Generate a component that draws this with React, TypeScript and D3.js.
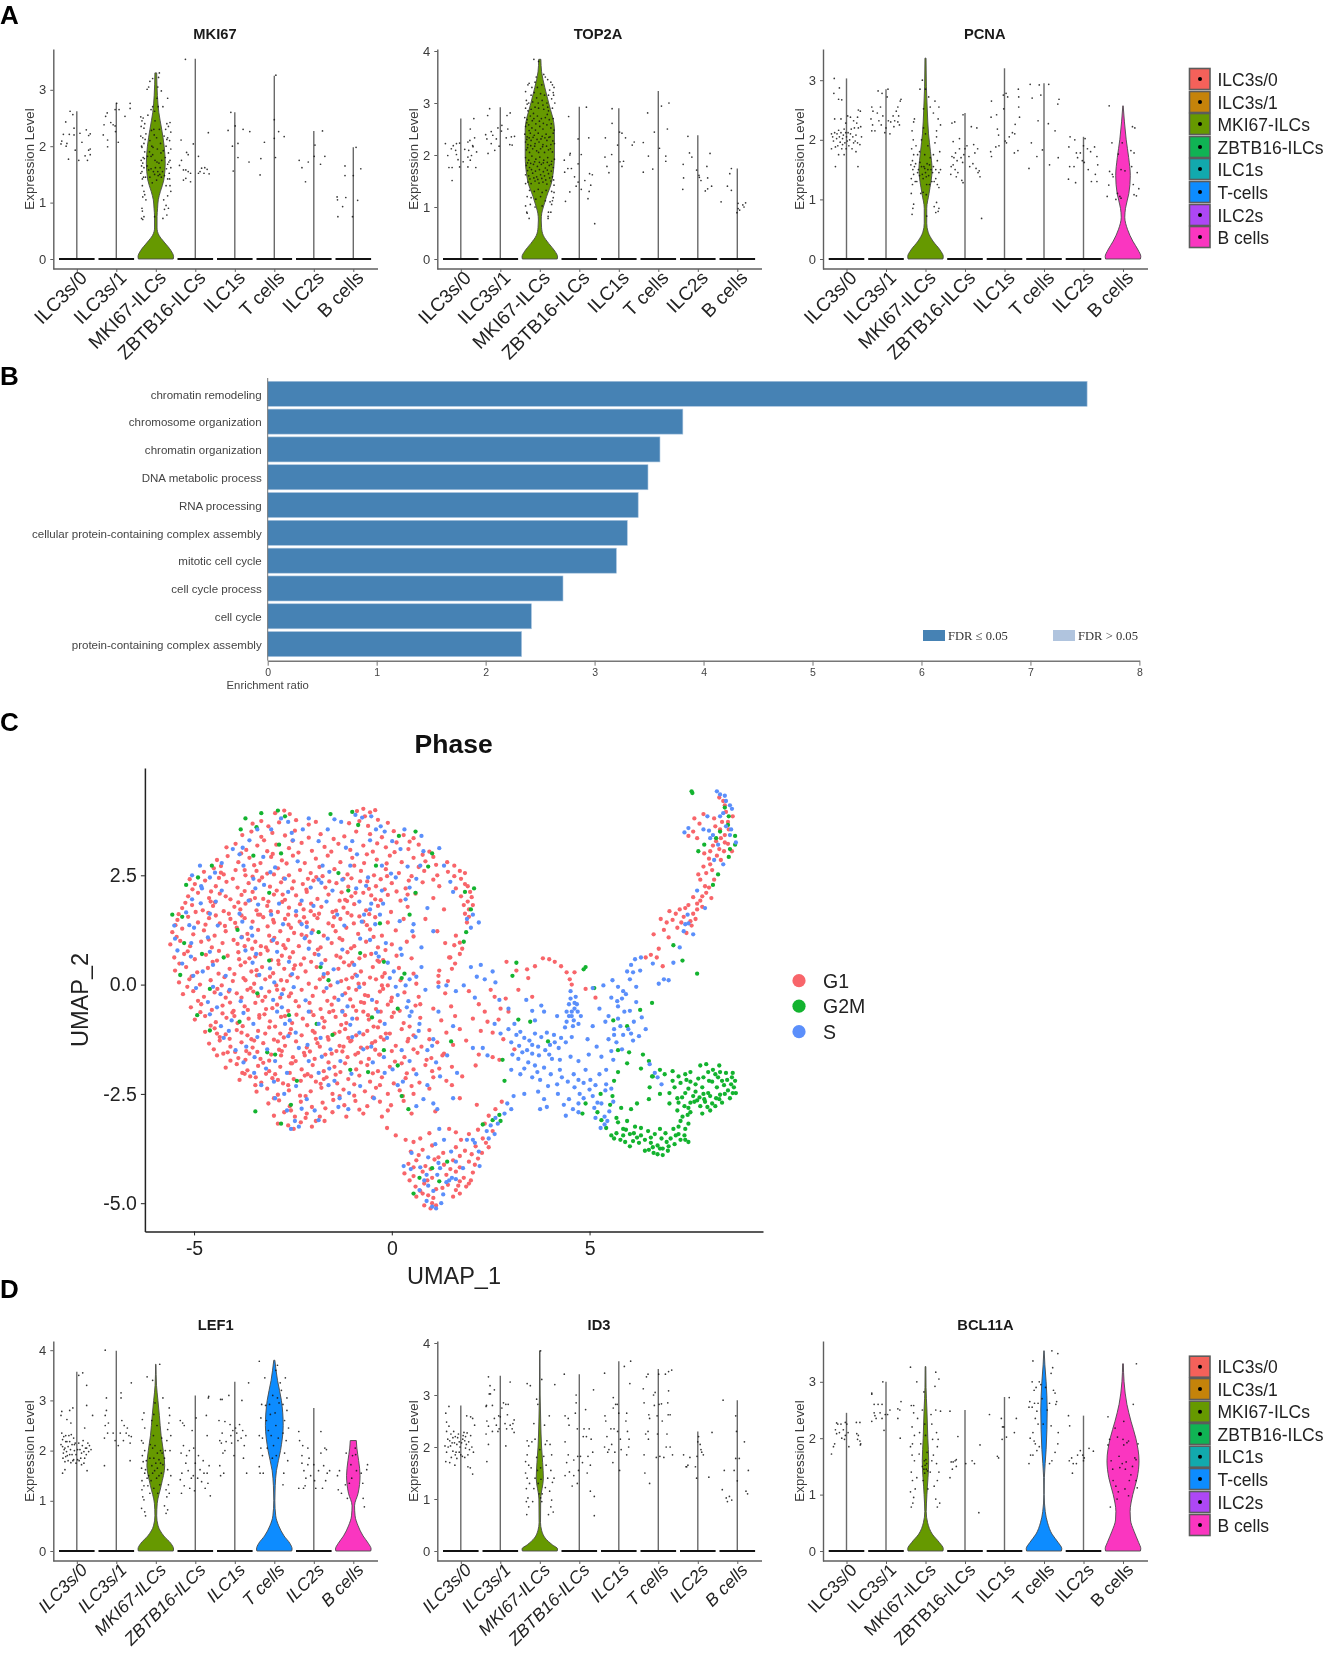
import { useEffect, useRef } from 'react'
import * as d3 from 'd3'

const clusters = ['ILC3s/0', 'ILC3s/1', 'MKI67-ILCs', 'ZBTB16-ILCs', 'ILC1s', 'T cells', 'ILC2s', 'B cells']
const legendLabels = ['ILC3s/0', 'ILC3s/1', 'MKI67-ILCs', 'ZBTB16-ILCs', 'ILC1s', 'T-cells', 'ILC2s', 'B cells']
const clusterColors = ['#f4615a', '#c5830a', '#669900', '#10b354', '#12a9ad', '#0d8cff', '#ad47f5', '#fa36c0']

// tallest value of each cluster, per gene
const mki67Max = [2.62, 2.77, 3.3, 3.55, 2.6, 3.25, 2.27, 1.98]
const top2aMax = [2.7, 2.92, 3.84, 2.93, 2.9, 3.23, 2.38, 1.74]
const pcnaMax = [3.03, 2.85, 3.37, 2.45, 3.2, 2.95, 2.05, 2.57]
const lef1Max = [3.57, 3.99, 3.72, 3.1, 3.37, 3.8, 2.85, 2.2]
const id3Max = [2.8, 3.37, 3.85, 3.4, 3.65, 3.5, 2.3, 2.9]
const bcl11aMax = [2.45, 3.0, 3.27, 2.5, 2.73, 3.55, 2.4, 3.32]

// violin outlines: value, relative half width
type Profile = [number, number][]
const mki67Green: Profile = [[0, .98], [.04, 1], [.15, .85], [.3, .47], [.42, .18], [.55, .07], [.75, .07], [.9, .1], [1.05, .14], [1.2, .26], [1.4, .45], [1.7, .53], [2, .47], [2.3, .33], [2.6, .17], [2.9, .09], [3.3, .05]]
const top2aGreen: Profile = [[0, .98], [.04, 1], [.15, .85], [.3, .5], [.45, .2], [.6, .1], [.75, .08], [.88, .11], [1, .2], [1.2, .38], [1.5, .68], [2, .82], [2.5, .82], [3, .5], [3.3, .28], [3.6, .1], [3.84, .06]]
const pcnaGreen: Profile = [[0, .98], [.04, 1], [.15, .82], [.3, .42], [.45, .15], [.6, .07], [.85, .07], [1.1, .2], [1.5, .37], [1.8, .28], [2.1, .17], [2.5, .1], [2.9, .05], [3.37, .03]]
const pcnaB: Profile = [[0, .98], [.04, 1], [.15, .85], [.3, .55], [.5, .25], [.7, .1], [.85, .14], [1.1, .33], [1.4, .41], [1.7, .32], [2, .18], [2.3, .08], [2.57, .01]]
const lef1Green: Profile = [[0, .98], [.04, 1], [.15, .85], [.3, .45], [.5, .13], [.7, .05], [.95, .08], [1.3, .3], [1.7, .5], [2, .42], [2.3, .3], [2.7, .2], [3, .12], [3.3, .04], [3.72, .01]]
const lef1T: Profile = [[0, .98], [.04, 1], [.15, .88], [.3, .55], [.5, .25], [.7, .08], [1, .03], [1.3, .05], [1.6, .12], [2, .35], [2.5, .5], [3, .4], [3.4, .18], [3.8, .03]]
const lef1B: Profile = [[0, .98], [.04, 1], [.15, .85], [.3, .55], [.5, .27], [.7, .1], [.9, .07], [1.15, .27], [1.5, .38], [1.8, .3], [2.05, .2], [2.2, .17]]
const id3Green: Profile = [[0, .98], [.04, 1], [.12, .7], [.25, .3], [.4, .1], [.55, .04], [1, .05], [1.4, .2], [1.7, .16], [2, .1], [2.5, .05], [3, .02], [3.85, .01]]
const bcl11aGreen: Profile = [[0, .98], [.04, 1], [.15, .78], [.3, .38], [.5, .12], [.7, .04], [1, .08], [1.6, .18], [2, .13], [2.5, .08], [2.9, .03], [3.27, .02]]
const bcl11aT: Profile = [[0, .98], [.04, 1], [.15, .8], [.3, .45], [.5, .2], [.7, .07], [1, .01], [1.3, .02], [1.8, .12], [2.5, .18], [3, .12], [3.3, .05], [3.55, .01]]
const bcl11aB: Profile = [[0, .98], [.04, 1], [.15, .88], [.35, .62], [.55, .42], [.7, .4], [1, .55], [1.3, .8], [1.6, .9], [2, .72], [2.3, .45], [2.6, .22], [3, .06], [3.32, .02]]

// jittered cells: offset in hundredths of a category step, then expression
const mki67Cells = [
  '-17,2.62 -10,2.56 -28,2.43 -34,2.21 -19,2.21 -7,2.32 -7,2.2 8,2.23 24,2.29 34,2.22 30,2.19 13,2.07 -38,2.09 -40,2.04 -25,2.05 -27,2 -21,1.77 -4,1.93 5,1.75 30,1.93 34,1.95 21,1.83 27,1.75 34,1.85',
  '-23,2.59 -27,2.53 -31,2.38 -14,2.42 -8,2.38 -3,2.36 -2,2.26 -33,2.2 -22,2.11 -22,1.99 5,2.07 35,2.76 35,2.67 22,2.53 7,2.65 -3,2.65 1,2.76',
  '-36,.72 -33,.7 -34,.85 -35,.9 -30,.75 -33,1.1 -28,1.14 -30,1.2 -34,1.3 -31,1.45 -35,1.55 -36,1.65 -33,1.7 -30,1.62 -37,1.75 -32,1.8 -28,1.9 -36,2 -30,2.05 -33,2.15 -37,2.35 -30,2.32 -35,2.45 -32,2.5 -38,2.52 -25,2.22 -28,2.4 -20,2.55 -15,3.15 -18,3.05 -22,3.01 -12,2.65 -8,2.7 -5,2.3 -15,2.1 -10,2 -4,2.2 -16,1.9 -8,1.85 -2,1.75 -12,1.6 -6,1.55 -15,1.45 -9,1.35 -3,1.5 5,1.55 2,1.4 10,1.5 14,1.45 8,1.7 15,1.75 4,1.95 12,2.05 2,2.15 9,2.3 -2,2.45 6,2.7 5,3.05 9,3.3 7,3.22 14,2.98 -8,3.2 3,2.85 18,2.7 30,2.85 28,2.4 36,2.42 32,2.35 25,2.3 38,2.25 30,2.15 35,2.1 26,2 38,1.95 32,1.88 24,1.8 36,1.75 30,1.68 38,1.62 27,1.6 34,1.52 22,1.48 30,1.42 36,1.3 26,1.3 38,1.2 30,1.12 20,1.05 26,.95 32,.9 22,.88 28,.78 18,.72 -3,.75 -25,1.05 -22,1.65 -26,1.45 -38,1.52 -34,1.42 -29,1.78 -35,1.98 -27,2.12 -38,2.18 -21,1.82 -18,1.58 -12,1.82 -7,1.98 -1,1.62 3,1.72 6,1.48 11,1.62 17,1.55 13,1.88 19,1.92 -11,2.28 -3,2.62 28,2.12 33,1.72 21,2.18 35,1.42',
  '-25,3.54 -36,2.11 33,2.24 -5,2.04 -22,1.89 -18,1.85 -35,1.75 -40,1.66 -30,1.58 -24,1.58 8,1.82 -18,1.55 -12,1.52 -30,1.4 -24,1.43 -12,1.37 8,1.52 12,1.55 16,1.61 24,1.62 30,1.59 35,1.51 22,1.52',
  '-10,2.6 -17,2.28 1,2.36 21,2.3 38,2.26 8,2.05 -6,2 8,1.8 36,1.72 -4,1.56',
  '0,2.47 -25,2.07 11,2.26 25,2.17 0,2.14 -34,1.78 3,1.8 -36,1.49 4,3.26',
  '22,2.27 3,2.02 -37,1.75 -14,1.72 -30,1.62 1,1.82 28,1.82 17,1.68 -21,1.37',
  '7,1.98 -21,1.65 -21,1.48 19,1.6 0,1.48 -41,1.1 -40,1.05 -19,1.09 11,1.04 -27,.93 -39,.75 -2,.75',
]

const top2aCells = [
  '-39,2.22 -19,2.18 -11,2.22 -3,2.23 -24,2.12 -13,2.09 -33,1.99 -11,2.01 -7,1.91 -30,1.76 -22,1.76 -22,1.51 -3,1.77 6,1.87 10,2.11 18,2.25 24,2.5 33,2.7 23,2.28 35,2.33 30,2.18 20,2.09 40,2.06 27,1.99 18,1.96 24,1.9 18,1.77 38,1.76 31,2.16',
  '-27,2.89 -32,2.76 25,2.81 17,2.76 -37,2.39 -23,2.45 -19,2.38 -34,2.31 -10,2.31 -23,2.22 -31,2.03 -14,2.09 -3,2.17 4,2.57 3,2.46 19,2.5 28,2.35 36,2.36 15,2.33 24,2.2 30,2.19 -6,2.52',
  '-15,3.84 -3,3.8 10,3.55 14,3.5 20,3.45 -27,3.38 -30,3.35 -12,3.4 -6,3.3 5,3.35 28,3.4 32,3.35 36,3.3 -36,3.22 -22,3.15 -14,3.2 2,3.18 12,3.15 25,3.25 34,3.2 -34,3.05 -28,3 -18,3.02 -8,3.1 6,3.05 18,3 30,3.08 38,3 -36,2.9 -30,2.85 -22,2.88 -12,2.92 -3,2.9 10,2.88 22,2.85 32,2.9 -38,2.72 -32,2.68 -24,2.75 -15,2.7 -6,2.75 4,2.7 14,2.72 24,2.68 34,2.7 -36,2.55 -28,2.58 -20,2.52 -10,2.6 0,2.55 8,2.5 18,2.58 28,2.52 36,2.48 -38,2.4 -32,2.35 -24,2.42 -14,2.38 -4,2.42 6,2.36 16,2.4 26,2.35 34,2.42 -36,2.25 -30,2.2 -22,2.28 -12,2.22 -2,2.25 8,2.2 18,2.28 28,2.2 37,2.22 -34,2.1 -26,2.05 -18,2.12 -8,2.08 2,2.12 12,2.05 22,2.1 32,2.06 -36,1.95 -28,1.9 -20,1.98 -10,1.92 0,1.96 10,1.9 20,1.95 30,1.88 37,1.92 -34,1.8 -26,1.76 -16,1.82 -6,1.78 4,1.82 14,1.75 24,1.8 34,1.76 -36,1.62 -28,1.6 -18,1.65 -8,1.58 2,1.62 12,1.6 22,1.64 32,1.58 -30,1.48 -22,1.45 -12,1.5 -2,1.46 8,1.48 18,1.44 28,1.5 36,1.42 -36,1.45 -26,1.32 -14,1.3 -4,1.34 6,1.28 16,1.32 30,1.3 36,1.28 -32,1.2 -22,1.18 -10,1.15 2,1.2 14,1.12 26,1.1 34,1.18 -36,1.02 -24,1.05 -12,1 6,1.02 32,1.12 30,1.05 -33,.9 -32,.88 -27,.78 22,.9 28,.9 21,.82 21,.78 -33,2.62 -27,2.47 -19,2.66 -11,2.48 -1,2.65 9,2.61 19,2.78 29,2.6 -33,2.3 -27,2.33 -17,2.34 -7,2.3 3,2.31 13,2.33 23,2.34 33,2.27 -31,2.14 -23,2.18 -13,2.17 -3,2.05 7,2.16 17,2.17 27,2.12 -31,1.85 -23,1.84 -13,1.87 -1,1.86 9,1.85 19,1.86 29,1.82 -31,1.7 -21,1.72 -11,1.69 -1,1.72 9,1.68 19,1.71 29,1.69 -25,1.54 -15,1.56 -5,1.53 5,1.55 15,1.52 25,1.56 35,1.52 -32,2.98 -16,2.8 -4,3 8,2.96 20,2.92 35,3.15 -20,3.3 -9,3.5 22,3.15',
  '-27,2.74 18,2.92 24,2.33 -3,2.31 -38,1.9 -24,2 -23,2.03 5,2.01 -29,1.74 -20,1.74 -37,1.67 -3,1.83 -12,1.58 -3,1.48 -8,1.4 5,1.34 14,1.51 26,1.64 33,1.62 29,1.42 25,1.3 22,1.16 -24,1.29 -35,1.11 39,.68',
  '-17,2.89 -17,2.61 -34,2.33 -35,1.96 -18,2.01 -30,1.78 -25,1.66 -3,2.19 2,2.44 8,2.42 17,2.33 34,2.19 39,2.25 3,1.87 12,1.88 8,1.78',
  '-27,2.81 8,2.94 27,3 -10,2.44 23,2.5 -38,2.24 3,2.13 -25,1.98 19,1.98 19,1.88 -14,1.73 -38,1.67',
  '-25,2.36 -21,2.04 -15,1.96 31,2.03 -37,1.82 23,1.78 -3,1.71 3,1.61 4,1.57 8,1.51 -36,1.56 25,1.56 -38,1.34 35,1.4 25,1.35 19,1.31',
  '-15,1.74 -19,1.64 -25,1.4 -15,1.32 -41,1.1 2,1.07 -1,.89 6,.94 17,1 14,1.04 21,1.08 2,.97',
]

const pcnaCells = [
  '-31,3.03 -18,2.87 -32,2.78 -20,2.68 -12,2.67 -30,2.35 -14,2.35 3,2.4 10,2.38 30,2.5 35,2.48 28,2.38 -38,2.1 -35,2.05 -33,1.98 -38,1.85 -28,1.88 -22,1.9 -25,2.02 -18,2.05 -14,2.12 -10,2.02 -6,2.18 -4,1.95 -12,1.85 -6,1.75 -20,1.75 -28,1.55 0,2.05 4,2.12 8,2 12,2.18 16,2.05 20,2.2 6,1.9 14,1.85 22,1.98 28,1.95 34,1.92 38,2.05 30,2.2 26,2.28 36,2.22 24,1.8 29,1.55 18,2.32 -2,2.28 -30,2.12 -24,2.1 -16,1.96 -8,2.08 -2,2.12 2,1.98 10,2.1 18,1.95 24,2.08 -20,2.16 -10,1.92 -1,1.85',
  '-36,2.55 -33,2.48 -20,2.82 -10,2.78 5,2.85 3,2.72 30,2.55 38,2.68 36,2.65 -38,2.35 -34,2.25 -28,2.15 -36,2.15 -22,2.45 -18,2.32 -12,2.25 -8,2.4 -3,2.12 0,2.2 6,2.32 10,2.1 12,2.3 18,2.4 22,2.32 26,2.48 30,2.3 32,2.4 34,2.25 20,2.22 -14,2.55',
  '-34,.75 -32,.85 -30,.92 -36,1.1 -33,1.25 -36,1.35 -30,1.42 -37,1.58 -33,1.65 -30,1.75 -35,1.85 -31,2 -34,2.15 -30,2.3 -28,2.35 -8,3 -5,2.52 -14,2.85 0,2.85 8,2.72 12,2.55 20,2.45 24,2.65 34,2.55 -22,1.3 -18,1.5 -25,1.6 -20,1.75 -24,1.9 -15,1.4 -10,1.55 -15,1.8 -10,2 -5,2.2 -4,1.55 -2,1.75 -6,1.35 0,1.45 4,1.6 3,1.25 6,1.9 0,2.1 8,1.4 10,1.25 12,1.7 14,1.5 18,1.45 20,1.75 22,1.3 24,1.95 28,2.05 26,1.5 30,1.65 34,1.45 30,1.25 36,1.8 38,1.5 34,1.2 38,2.25 22,.88 28,.95 26,.78 32,.8 34,.85 3,.72 28,2.15 32,2.35 -28,1.55 -26,1.3 -32,1.5 -20,1.45 -14,1.62 -8,1.42 -2,1.52 2,1.38 6,1.5 10,1.58 16,1.3 20,1.55 26,1.35 -12,1.1 -6,1.12 2,1.08',
  '-33,2.28 -26,2.3 -5,2.42 -14,2.02 -30,1.97 -14,1.85 -33,1.72 -28,1.7 -24,1.78 -20,1.65 -30,1.58 -35,1.55 -25,1.5 -18,1.45 -36,1.42 -22,1.38 -8,1.32 -5,1.28 -3,1.75 0,1.85 -6,1.62 5,1.9 16,2.22 30,2.2 32,1.85 25,1.78 12,1.55 20,1.6 28,1.52 33,1.45 38,1.38 36,1.48 -10,1.7 10,1.72 22,1.92 42,.68',
  '-33,2.65 -34,2.38 -20,2.42 -35,1.8 -33,1.72 -22,1.88 -18,2.18 -15,2.08 -14,1.9 4,2.78 -3,2.75 8,2.72 -2,2.52 2,1.98 5,1.95 12,2.05 20,2.12 26,2.1 35,2.85 36,2.72 36,2.55 38,2.38 27,2.26 34,1.82 25,1.78',
  '-35,2.93 -12,2.92 -8,2.75 12,2.93 -30,2.7 -15,2.32 -4,1.83 -32,1.95 -18,1.72 -38,1.52 11,2.27 28,2.15 35,2.6 38,2.68 14,1.58 36,1.7',
  '-34,2.05 -22,2 -37,1.88 -35,1.55 -38,1.34 -18,1.78 -15,1.7 -20,1.28 -8,1.78 -3,1.65 0,1.9 2,1.62 4,2.02 10,1.85 18,1.8 28,1.88 34,1.72 36,1.58 12,1.5 -24,1.55 20,1.3 30,1.42 34,1.3',
  '-35,2.57 -28,1.95 -34,1.47 -27,1.42 -25,1.38 -36,1.24 -40,1.05 -12,1.76 -2,1.95 -5,1.5 5,1.48 -14,1.1 -8,1.05 -18,1 -5,1.02 24,2.22 30,2.2 20,1.82 28,1.78 22,1.55 36,1.45 26,1.25 40,1.18 34,1.06 28,1.08',
]

const lef1Cells = [
  '-38,2.35 -36,2.22 -40,2.12 -33,2.28 -28,2.3 -25,2.18 -20,2.3 -14,2.32 -8,2.25 -4,2.15 -30,2.05 -26,1.98 -22,2.08 -16,2.02 -12,1.92 -6,2 -35,1.85 -30,1.78 -22,1.8 -15,1.76 -8,1.82 -2,1.75 -36,1.55 -30,1.62 -25,2.62 -38,2.78 -18,2.8 -40,2.7 -10,2.85 5,2.15 8,2.02 12,1.95 16,2.2 20,1.85 25,2.05 28,2.15 32,2.1 36,2.02 22,2.05 18,1.75 12,1.72 2,1.82 26,1.6 20,2.45 40,2.7 25,2.9 5,3.5 15,3.55 25,3.3 -15,2.55 -36,2.08 -32,2.02 -34,1.95 -28,1.88 -24,1.9 -18,1.92 -12,2.12 -6,2.12 -2,1.92 2,2.02 6,1.8 10,1.85 14,2.1 18,1.98 24,1.92 30,1.98 -28,2.18 -18,2.18 -10,1.8',
  '-25,3.05 -25,2.8 -28,2.7 -20,2.55 -22,2.35 -30,2.25 -30,1.7 -8,2.35 -3,2.2 5,2.1 12,3.15 12,3.05 14,2.6 20,2.5 25,2.35 32,2.3 38,2.28 18,2.2 35,2.15 28,2.45 10,2.35 -28,2.5 38,3.35 -28,4 35,1.8',
  '-22,3.47 10,3.72 -8,3.4 -30,2.75 -34,2.62 -28,2.45 -36,2.2 -32,2.15 -28,2 -34,1.9 -32,1.78 -36,1.65 -28,1.55 -35,1.4 -30,1.3 -35,1.22 -33,1.08 -30,1.02 -36,.85 -28,.78 -26,.7 -15,1.15 -20,1.3 -18,1.5 -10,1.7 -15,1.85 -8,2.05 -14,2.12 -6,2.3 -10,2.6 -5,2.72 -2,2.95 3,2.5 -2,2.1 4,1.95 -3,1.6 2,1.45 -5,1.25 5,1.15 10,1.32 14,1.55 18,1.72 12,2 15,2.25 22,1.85 24,2 28,2.2 33,2.55 34,2.85 35,2.7 30,2.42 38,2.3 36,2 30,1.62 38,1.5 32,1.32 26,1.22 34,1.15 28,1.08 22,.9 30,.82 26,.75 18,3.05 -24,1.8 -26,1.62 -22,1.45 -12,1.4 -8,1.55 -5,1.85 0,1.75 4,1.65 8,1.5 8,1.82 12,1.75 16,1.95',
  '-38,2.6 -32,2.55 -28,2.5 -30,2.1 -36,1.95 -34,1.55 -38,1.42 -28,1.3 -35,1.15 -22,1.9 -24,1.75 -15,2 -18,1.6 -10,1.45 -14,1.25 -4,2.05 0,1.75 -5,1.5 -2,1.2 -8,2.4 2,2.65 8,1.9 6,1.45 12,1.62 16,1.38 20,1.8 22,1.55 25,1.25 30,1.55 35,1.7 32,1.35 38,1.1 30,2.3 28,2.7 34,3.08 33,3.05',
  '-40,2.6 -36,3.02 -32,3.02 -25,2.58 -32,2.35 -22,2.18 -38,2.2 -34,2.15 -25,2 -30,1.95 -36,1.5 -28,1.55 -38,1.7 -15,3.1 -12,2.52 -10,2.3 -8,2.15 -5,2.4 -2,1.9 2,2.45 5,2.35 8,2.2 12,2.52 16,2.25 20,2.4 28,2.3 35,3.35 24,2.1 30,1.55 22,1.85 18,3',
  '-38,3.78 -24,3.45 -22,2.9 -32,2.92 -34,2.65 -38,2.3 -30,2.25 -34,2.05 -30,1.9 -38,1.68 -28,1.55 -36,1.55 -20,2.6 -15,2.4 -12,2.92 -18,2.05 -10,2.72 -4,3.1 2,2.75 8,3.05 -8,2.3 -2,2.1 4,2.5 10,2.25 -5,1.85 5,1.9 15,3.35 18,3.2 22,2.92 28,3.45 22,2.35 26,2.6 32,2.8 36,2.45 30,2.2 26,1.95 34,1.8 24,1.55 22,1.32 32,3.05 4,3.6 8,3.7 12,2.95',
  '-38,2.38 -36,2.2 -28,2.1 -30,1.9 -25,1.6 -30,1.75 -15,2.05 -12,1.85 -20,1.45 -22,1.3 -38,1.25 -26,1.25 -15,1.72 0,1.72 2,1.4 5,1.25 18,2.38 28,2.05 18,1.95 32,2.02 25,1.7 34,1.55 30,1.4 -8,1.5 12,1.6 40,1.6 22,1.25',
  '-40,1.5 -38,1.22 -35,1.6 -30,1.15 -18,1.95 -10,1.35 -6,1.72 -4,1.45 -2,1.9 5,2.05 6,1.92 8,1.6 20,1.55 24,1.35 28,.88 34,1.62 36,1.72 25,1.05 -20,1.32 -15,1.05',
]

const id3Cells = [
  '-38,2.65 -30,2.78 -36,2.48 -30,2.4 -36,2.3 -33,2.15 -40,2.02 -36,1.9 -28,2.12 -25,2.25 -22,2.08 -18,2.3 -14,2.2 -10,2.05 -6,2.25 -24,1.8 -20,1.92 -14,1.85 -10,1.78 -4,1.9 -4,2.1 -38,1.72 -28,1.7 -15,1.65 0,1.85 5,2.15 8,2.28 12,2.2 16,2.27 20,2.1 12,1.98 18,1.85 4,1.82 10,1.8 22,1.95 25,2.22 30,2.55 35,2.42 25,2.58 28,2 32,1.9 18,1.62 30,1.48 24,1.6 15,2.6 -32,2 -26,2.02 -20,2.18 -16,2.08 -12,1.9 -8,2.18 -2,2 2,2.08 6,2.22 10,2.12 14,2.05',
  '-35,2.8 -36,2.78 -30,3.35 -26,3.18 -28,3.02 -25,3.02 -20,2.8 -15,3.1 -34,2.5 -30,2.4 -36,2.25 -30,2.05 -34,1.72 -20,2.3 -15,2.55 -10,2.42 -6,2.3 -4,2.6 0,2.58 -3,2.35 4,2.75 8,2.85 14,2.82 20,2.82 25,3.25 18,2.62 12,2.45 16,2.35 25,2.42 32,2.45 35,2.52 30,2.35 14,2.02 35,2.28',
  '-32,3.22 -24,3.18 -8,2.92 -5,2.82 -32,2.12 -36,1.72 -32,1.85 -28,1.65 -36,1.5 -32,1.4 -26,1.3 -34,1.2 -30,1.02 -34,.95 -28,.85 -33,.7 -28,2.02 -22,1.6 -20,2.1 -15,2.45 -12,2.15 -12,1.4 -15,1.2 -18,.95 -8,1.8 -6,1.55 -4,1.3 -2,1.1 0,1.95 2,1.6 3,1.38 6,1.1 2,1.02 5,.95 12,2.42 14,2.05 10,1.82 16,1.65 20,1.4 14,1.22 18,2.12 24,2.6 26,2.05 30,1.85 28,1.55 32,1.32 25,1.15 30,.98 22,.7 28,.85 34,.75 36,1.4 38,3.2 2,3.85 5,3.3',
  '-38,3.4 -36,2.6 -28,2.55 -26,2.42 -8,3 -8,2.85 -10,2.65 -36,2.1 -32,1.7 -28,1.85 -25,1.52 -36,1.45 -14,1.75 -14,1.45 -18,1.25 -5,2.35 -4,1.82 -2,1.55 -5,1.3 3,1.82 8,1.7 10,2.2 12,2.35 16,2.72 18,2.2 22,1.82 20,1.5 28,1.65 25,2.35 30,2.15 34,1.9 28,1.15 38,1.05 36,3.1 38,.68',
  '-36,3.42 -35,2.6 -33,2.5 -30,2.2 -36,2.0 -28,1.9 -25,1.95 -20,2.35 -14,2.95 -14,2.75 -12,2.35 -18,2.05 -10,1.9 -15,1.7 -8,2.82 -4,2.82 -3,2.3 0,2.65 4,2.15 6,1.95 2,1.55 14,3.55 30,3.65 28,3.22 20,2.65 18,2.5 22,2.3 26,2.15 25,2 20,1.85',
  '-38,3.12 -30,3.35 -26,3.4 -36,2.85 -26,2.3 -24,2.62 -22,2.55 -32,2.25 -36,1.85 -34,1.5 -22,1.3 -25,2.15 -12,3 -8,3.05 -10,2.8 -3,2.6 -2,2.25 1,3.4 2,2.82 8,2.83 10,2.5 -5,1.8 4,1.82 18,3.4 22,2.25 26,3.45 24,2.85 26,3.08 25,2.62 30,2.62 34,3.48 30,2 20,2 36,1.85 14,1.8',
  '-36,1.85 -25,1.65 -28,1.62 -20,1.8 -6,1.62 -3,1.4 -2,1.82 0,2.1 2,2.2 6,2.05 8,1.95 10,1.9 14,1.85 36,2.28 28,1.42 -30,1.62',
  '-36,2.9 -4,2.6 -2,2.3 18,2.1 28,1.55 -33,1.55 -38,1.18 -28,1.02 -25,.95 -20,1.05 -14,.98 -8,1.55 -4,1.78 0,1.35 5,1.78 22,1.15 26,1.1',
]

const bcl11aCells = [
  '-38,1.72 -33,1.85 -30,1.9 -28,2.15 -25,2.08 -22,2.25 -18,2.1 -14,2.25 -12,2 -8,2.15 -5,1.98 -3,2.05 1,2.25 4,2.1 6,1.85 -3,2.28 25,2.28 26,2.08 30,2.05 28,1.98 34,2.28 34,1.95 35,1.88 -25,2.27 36,1.9',
  '-36,2.8 -30,2.6 -36,2.3 -30,2.45 -25,2.35 -15,2.45 -10,2.6 -8,3 -10,2.35 -5,2.14 -2,2.42 4,2.42 10,2.5 30,2.52 30,2.35 38,2.65 36,2 35,2.5 -28,2.4 -20,2.6 -36,2.78',
  '-38,3.26 -22,3 -30,2.45 -36,2.58 -30,2.58 -34,2.2 -33,1.9 -28,2.05 -38,1.85 -34,1.7 -28,1.6 -36,1.4 -33,1.25 -38,1.05 -32,.85 -36,.78 -26,1.1 -30,.95 -22,1.3 -20,2.35 -15,2.1 -12,1.9 -16,1.72 -8,2.5 -4,2.82 -8,1.5 -6,1.25 -3,1.6 0,2.05 -2,2.25 2,1.45 4,1.75 6,1.1 14,2.42 16,2.25 18,1.98 20,1.7 12,1.4 16,1.6 22,1.15 24,2.92 26,2.5 28,2.1 30,1.85 28,1.55 34,1.4 30,1.25 26,.92 30,.78 36,.85 26,3.17 38,2.48 34,3.05 32,1.98 -1,1.52 -4,1.45 1,1.62 3,1.55 -2,1.38 5,1.42',
  '-38,2.48 -35,1.58 -32,1.45 -30,1.58 -38,1.3 -25,1.6 -22,1.62 -22,1.5 -18,2.03 2,1.55 18,1.6 24,1.55 38,1.88 35,.68',
  '-38,2.42 -15,1.65 -18,1.68 -5,2.2 -6,1.98 -2,2.2 5,2.02 12,2.72 25,2.1 30,2.35 -8,2.35',
  '-36,2.65 -38,2.55 -35,2 -38,1.55 -34,1.7 -28,3.37 -30,3 -30,2.55 -25,2.85 -24,2.62 -22,2.35 -28,2.1 -25,1.95 -22,1.9 -18,1.78 -28,1.7 -20,2.9 -18,2.48 -15,2.62 -15,2.25 -12,1.85 -12,3 -8,2.95 -5,2.7 -2,2.25 4,2.9 8,2.5 14,2.62 18,2.22 20,3.55 35,3.5 22,3.25 18,3.15 24,2.85 28,2.8 32,2.65 30,2.6 36,2.1 35,1.9 28,1.75 20,1.6 14,1.55',
  '-38,2.4 -35,2.22 -30,1.65 -36,1.6 -26,1.55 -28,1.38 -15,1.7 -8,1.78 -2,1.7 0,1.6 2,1.65 14,1.82 25,1.77 -18,1.55',
  '-38,2.38 -34,1.98 -38,1.88 -32,.78 -30,1.6 -26,1.45 -20,2.18 -14,2.02 -25,1.25 -18,1.15 -12,1.05 -15,.92 -10,1.68 -8,1.48 -2,1.55 2,2.3 5,1.1 0,1.98 2,1.88 6,1.45 8,1.58 10,1.92 14,.98 16,1.25 20,1.35 24,1.5 26,2.6 30,1.65 33,1.25 33,1.62 36,1.12 38,1.9 14,1.95 34,3.32',
]

// enrichment bars
const terms = ['chromatin remodeling', 'chromosome organization', 'chromatin organization', 'DNA metabolic process', 'RNA processing', 'cellular protein-containing complex assembly', 'mitotic cell cycle', 'cell cycle process', 'cell cycle', 'protein-containing complex assembly']
const enrichment = [7.52, 3.81, 3.6, 3.49, 3.4, 3.3, 3.2, 2.71, 2.42, 2.33]
const enrichTicks = [0, 1, 2, 3, 4, 5, 6, 7, 8]

// UMAP cells, x,y
const phaseLabels = ['G1', 'G2M', 'S']
const phaseColors = ['#f8656a', '#13b32f', '#5b8ffb']
const umapTicksX = [-5, 0, 5]
const umapTicksY = [2.5, 0, -2.5, -5]

const g1Cells = `-2.95,3.92 -2.72,3.98 -2.58,3.9 -0.88,3.97 -0.72,4.02 -0.55,3.94 -0.42,3.99 -0.68,3.85 -3.52,3.68 -3.3,3.74 -3.12,3.62 -2.85,3.71 -2.42,3.76 -2.1,3.66 -1.92,3.72 -1.08,3.69 -0.82,3.74 -0.6,3.63 -0.35,3.77 -0.1,3.7 -3.78,3.42 -3.55,3.5 -3.3,3.38 -3.02,3.47 -2.7,3.41 -2.45,3.52 -2.1,3.36 -1.8,3.44 -1.2,3.39 -0.9,3.5 -0.55,3.44 -0.25,3.37 0.05,3.51 0.3,3.42 0.55,3.35 -4.18,3.14 -3.95,3.22 -3.68,3.08 -3.4,3.18 -3.15,3.05 -2.92,3.2 -2.6,3.12 -2.28,3.24 -2.02,3.06 -1.7,3.15 -1.35,3.22 -1.05,3.08 -0.72,3.18 -0.48,3.04 -0.15,3.14 0.12,3.25 0.42,3.1 0.68,3.2 0.95,3.04
-4.42,2.85 -4.15,2.94 -3.88,2.8 -3.6,2.9 -3.32,2.78 -3.05,2.92 -2.78,2.84 -2.5,2.95 -2.2,2.78 -1.92,2.88 -1.62,2.95 -1.3,2.8 -1,2.9 -0.7,2.78 -0.38,2.86 -0.05,2.95 0.25,2.8 0.55,2.9 0.85,2.82 1.12,2.74 1.05,2.92 -4.75,2.58 -4.5,2.66 -4.25,2.52 -3.95,2.62 -3.7,2.5 -3.42,2.6 -3.15,2.54 -2.88,2.66 -2.6,2.5 -2.32,2.62 -2.05,2.55 -1.75,2.48 -1.45,2.64 -1.12,2.52 -0.78,2.6 -0.45,2.5 -0.15,2.64 0.18,2.55 0.5,2.48 0.82,2.6 1.15,2.5 1.42,2.58 1.75,2.42 1.85,2.55 -4.98,2.3 -4.72,2.38 -4.45,2.25 -4.18,2.35 -3.9,2.22 -3.62,2.32 -3.35,2.38 -3.08,2.24 -2.8,2.34 -2.52,2.2 -2.25,2.3 -1.98,2.38 -1.68,2.22 -1.4,2.32 -1.1,2.24 -0.8,2.36 -0.4,2.25 0,2.32 0.35,2.2 0.78,2.34 1.2,2.25 1.62,2.2 1.85,2.3 1.98,2.12 -5.15,2.02 -4.9,2.1 -4.62,1.98 -4.35,2.08 -4.08,1.95 -3.8,2.05 -3.52,2.12 -3.25,1.96 -2.98,2.06 -2.7,1.94 -2.42,2.04 -2.15,2.12 -1.88,1.96 -1.6,2.06 -1.32,1.92 -1.02,2.02 -0.72,2.1 -0.42,1.95 -0.1,2.05 0.22,1.92 0.6,2.08 1.05,1.98 1.75,2.02 2.02,2 1.82,1.82 1.92,1.9
-5.3,1.75 -5.05,1.82 -4.78,1.7 -4.52,1.8 -4.25,1.68 -3.98,1.78 -3.7,1.85 -3.42,1.7 -3.15,1.8 -2.88,1.66 -2.6,1.76 -2.32,1.84 -2.05,1.68 -1.78,1.78 -1.5,1.66 -1.22,1.76 -0.95,1.84 -0.65,1.7 -0.35,1.8 -0.02,1.66 0.4,1.78 1.32,1.72 1.85,1.62 1.95,1.72 -5.42,1.48 -5.15,1.55 -4.9,1.42 -4.62,1.52 -4.35,1.4 -4.08,1.5 -3.8,1.58 -3.52,1.44 -3.25,1.54 -2.98,1.42 -2.7,1.5 -2.42,1.58 -2.15,1.42 -1.88,1.52 -1.6,1.4 -1.3,1.5 -1.02,1.58 -0.72,1.44 -0.42,1.54 -0.1,1.42 0.3,1.5 0.85,1.5 1.9,1.42 -5.55,1.2 -5.3,1.28 -5.02,1.15 -4.75,1.24 -4.48,1.12 -4.2,1.22 -3.92,1.3 -3.65,1.16 -3.38,1.25 -3.1,1.12 -2.82,1.22 -2.55,1.3 -2.28,1.14 -2,1.24 -1.72,1.12 -1.42,1.22 -1.15,1.3 -0.85,1.16 -0.55,1.26 -0.25,1.12 0.1,1.24 0.55,1.1 1.15,1.22 -5.6,.92 -5.35,1 -5.1,.88 -4.82,.98 -4.55,.85 -4.28,.95 -4,1.02 -3.72,.88 -3.45,.98 -3.18,.85 -2.9,.95 -2.62,1.02 -2.35,.88 -2.08,.98 -1.8,.85 -1.52,.95 -1.25,1.02 -0.95,.88 -0.65,.98 -0.35,.85 0,.92 0.38,.98 1.35,.95 1.58,.9 1.72,.96
-5.5,.62 -5.25,.7 -4.98,.58 -4.7,.68 -4.42,.55 -4.15,.66 -3.88,.74 -3.6,.6 -3.32,.7 -3.05,.56 -2.78,.66 -2.5,.74 -2.22,.6 -1.95,.7 -1.68,.56 -1.4,.66 -1.12,.74 -0.82,.6 -0.52,.7 -0.22,.56 0.12,.66 0.5,.6 1.48,.62 1.6,.48 1.72,.7 -5.48,.32 -5.2,.4 -4.92,.28 -4.65,.38 -4.38,.25 -4.1,.36 -3.82,.44 -3.55,.3 -3.28,.4 -3,.26 -2.72,.36 -2.45,.44 -2.18,.3 -1.9,.4 -1.62,.26 -1.35,.36 -1.08,.44 -0.78,.3 -0.48,.4 -0.18,.26 0.18,.38 0.55,.25 1.2,.32 1.52,.36 -5.38,.05 -5.12,.12 -4.85,0 -4.58,.1 -4.3,-.02 -4.02,.08 -3.75,.15 -3.48,.02 -3.2,.12 -2.92,-.02 -2.65,.08 -2.38,.16 -2.1,.02 -1.82,.12 -1.55,-.02 -1.28,.08 -1,.16 -0.7,.02 -0.4,.12 -0.1,-.02 0.22,.1 0.62,.02 1.18,.05 1.42,.08 -5.28,-.22 -5.02,-.15 -4.75,-.28 -4.48,-.18 -4.2,-.3 -3.92,-.2 -3.65,-.12 -3.38,-.26 -3.1,-.16 -2.82,-.3 -2.55,-.2 -2.28,-.12 -2,-.26 -1.72,-.16 -1.45,-.3 -1.18,-.2 -0.9,-.12 -0.6,-.26 -0.3,-.16 0,-.3 0.32,-.18 0.68,-.28 1.35,-.2 1.95,-.15 2.5,-.12 2.6,-.28
-5.08,-.52 -4.82,-.45 -4.55,-.58 -4.28,-.48 -4,-.6 -3.72,-.5 -3.45,-.42 -3.18,-.56 -2.9,-.46 -2.62,-.6 -2.35,-.5 -2.08,-.42 -1.8,-.56 -1.52,-.46 -1.25,-.6 -0.98,-.5 -0.7,-.42 -0.4,-.56 -0.1,-.46 0.2,-.6 0.6,-.48 1.05,-.55 1.5,-.5 2.2,-.45 2.35,-.62 2.75,-.55 -4.98,-.8 -4.72,-.72 -4.45,-.86 -4.18,-.76 -3.9,-.88 -3.62,-.78 -3.35,-.7 -3.08,-.84 -2.8,-.74 -2.52,-.88 -2.25,-.78 -1.98,-.7 -1.7,-.84 -1.42,-.74 -1.15,-.88 -0.88,-.78 -0.6,-.7 -0.3,-.84 0,-.74 0.3,-.88 0.72,-.76 1.25,-.82 1.6,-.72 2.05,-.78 2.7,-.8 -4.72,-1.08 -4.48,-1 -4.2,-1.14 -3.92,-1.04 -3.65,-1.16 -3.38,-1.06 -3.1,-.98 -2.82,-1.12 -2.55,-1.02 -2.28,-1.16 -2,-1.06 -1.72,-.98 -1.45,-1.12 -1.18,-1.02 -0.9,-1.16 -0.62,-1.06 -0.35,-.98 -0.05,-1.12 0.25,-1.02 0.55,-1.16 0.95,-1.04 1.38,-1.1 1.72,-1.02 2.25,-1.06 2.55,-1.1
-4.62,-1.35 -4.35,-1.28 -4.08,-1.42 -3.8,-1.32 -3.52,-1.44 -3.25,-1.34 -2.98,-1.26 -2.7,-1.4 -2.42,-1.3 -2.15,-1.44 -1.88,-1.34 -1.6,-1.26 -1.32,-1.4 -1.05,-1.3 -0.78,-1.44 -0.5,-1.34 -0.2,-1.26 0.1,-1.4 0.4,-1.3 0.75,-1.42 1.15,-1.32 1.55,-1.38 1.88,-1.28 -4.42,-1.62 -4.15,-1.55 -3.88,-1.68 -3.6,-1.58 -3.32,-1.7 -3.05,-1.6 -2.78,-1.52 -2.5,-1.66 -2.22,-1.56 -1.95,-1.7 -1.68,-1.6 -1.4,-1.52 -1.12,-1.66 -0.85,-1.56 -0.58,-1.7 -0.3,-1.6 0,-1.52 0.32,-1.66 0.65,-1.56 1,-1.68 1.32,-1.58 2.2,-1.6 2.55,-1.66 -4.2,-1.9 -3.92,-1.82 -3.65,-1.96 -3.38,-1.86 -3.1,-1.98 -2.82,-1.88 -2.55,-1.8 -2.28,-1.94 -2,-1.84 -1.72,-1.98 -1.45,-1.88 -1.18,-1.8 -0.9,-1.94 -0.62,-1.84 -0.35,-1.98 -0.05,-1.88 0.25,-1.8 0.55,-1.94 0.85,-1.84 1.2,-1.92 1.52,-1.88 2.12,-1.85 -3.85,-2.18 -3.58,-2.1 -3.3,-2.24 -3.02,-2.14 -2.75,-2.26 -2.48,-2.16 -2.2,-2.08 -1.92,-2.22 -1.65,-2.12 -1.38,-2.26 -1.1,-2.16 -0.82,-2.08 -0.55,-2.22 -0.25,-2.12 0.05,-2.26 0.35,-2.14 0.7,-2.24 1.05,-2.12 1.38,-2.2 1.78,-2.1
-3.42,-2.45 -3.15,-2.38 -2.88,-2.52 -2.6,-2.42 -2.32,-2.54 -2.05,-2.44 -1.78,-2.36 -1.5,-2.5 -1.22,-2.4 -0.95,-2.54 -0.68,-2.44 -0.4,-2.36 -0.1,-2.5 0.2,-2.42 0.55,-2.5 0.95,-2.38 -3.12,-2.72 -2.85,-2.65 -2.58,-2.78 -2.3,-2.68 -2.02,-2.8 -1.75,-2.7 -1.48,-2.64 -1.2,-2.76 -0.92,-2.66 -0.62,-2.78 -0.3,-2.68 -0.02,-2.76 0.3,-2.66 -2.98,-3 -2.72,-2.92 -2.45,-3.02 -2.15,-2.95 -1.82,-3.02 -1.5,-2.92 -1.15,-3.02 -0.72,-2.95 -0.25,-3.02 -2.88,-3.18 -2.62,-3.22 -2.3,-3.15 -2.02,-3.25 -1.7,-3.12 -0.12,-3.28 0.1,-3.45 0.55,-3.6
0.35,-3.55 0.72,-3.52 0.95,-3.4 1.45,-3.3 1.75,-3.55 1.95,-3.42 2.18,-3.32 2.3,-3.52 0.48,-3.82 0.78,-3.78 1.02,-3.68 1.3,-3.85 1.62,-3.72 1.85,-3.8 2.12,-3.7 2.38,-3.62 0.42,-4.1 0.62,-4.02 0.85,-4.15 1.08,-4 1.32,-4.12 1.55,-4.02 1.72,-4.18 1.95,-4.05 2.18,-3.98 0.32,-4.32 0.55,-4.38 0.78,-4.28 1.02,-4.42 1.38,-4.35 1.62,-4.28 1.82,-4.42 2.05,-4.3 0.6,-4.62 0.82,-4.55 1.12,-4.68 1.42,-4.58 1.62,-4.7 1.88,-4.62 2,-4.48 0.62,-4.85 0.78,-4.78 1.05,-4.88 1.55,-4.85 1.72,-4.78 0.82,-5.05 0.98,-5.12 1.12,-5.05 1.02,-5
2.45,-3 2.62,-2.85 2.78,-2.68 2.15,-2.75 1.72,-2.6 1.1,-2.9 0.5,-2.95 1.52,-2.3 1.28,-1.62 0.95,-1.25 0.72,-.45 1.18,.2 1.45,.62 1.62,1.12 1.78,.82 2.9,.52 3.15,.32 3.45,.15 3.62,.42 3.82,.6 3.98,.58 4.12,.52 4.28,.42 4.42,.28 4.5,.12 4.55,0 3.55,-.28 3.2,-.12 2.95,-.62 2.82,-1.25 3.1,-1.48 2.72,-1.72 2.88,-.32 4.62,.28 4.9,-.1 2.42,-.85 3.42,.35
5.15,-.3 6.42,.62 6.55,.68 6.7,.62 6.85,.42 6.75,.82 6.62,1.15 6.88,1.25 7,1.08 6.8,1.5 7.1,1.48 7.22,1.3 7.38,1.55 7.02,1.68 7.45,1.18 7.58,1.35 7.62,1.62 7.28,1.72 7.72,1.72 7.5,1.82 7.8,1.92 7.62,2 7.95,2.1 7.85,2.02 8.02,2.22 7.8,2.4 7.95,2.55 7.88,2.7 8.1,2.62 8.02,2.88 7.9,3 8.22,2.95 8.28,3.1 8.4,3.05 8.12,3.18 8.5,3.22 8.42,3.42 8.3,3.55 8.15,3.8 7.62,3.5 7.78,3.68 7.65,3.8 7.5,3.4 8.5,3.72 8.62,3.85 8.42,4.1 8.28,4.28 8.45,3.95
-3.23,3.3 -2.51,3.29 -1.47,3.33 -0.37,3.23 0.45,3.27 -3.81,3 -3.01,2.99 -2.36,3.02 -1.53,3.04 -0.63,2.98 0.07,3.03 0.78,2.97 -4.32,2.71 -3.48,2.73 -2.66,2.77 -1.83,2.69 -0.95,2.72 -0.13,2.77 0.68,2.69 -5.11,2.41 -4.37,2.44 -3.52,2.47 -2.73,2.43 -1.91,2.46 -1.02,2.43 -0.28,2.41 0.43,2.38 1.05,2.4 -5.04,2.18 -4.57,2.13 -3.72,2.14 -2.91,2.15 -2.16,2.17 -1.27,2.11 -0.58,2.19 0.12,2.13 -5.22,1.87 -4.47,1.88 -3.58,1.93 -2.77,1.89 -2.04,1.85 -1.13,1.91 -0.28,1.93 -5.39,1.61 -4.64,1.64 -3.83,1.72 -3.06,1.68 -2.23,1.72 -1.41,1.69 -0.57,1.61 -4.96,1.66 -3.33,1.6 -1.96,1.59 -0.82,1.56 -5.47,1.36 -4.71,1.37 -3.96,1.41 -3.14,1.33 -2.33,1.44 -1.49,1.34 -0.63,1.36 -4.22,1.34 -2.61,1.37 -0.96,1.4 -5.44,1.09 -4.63,1.03 -3.79,1.09 -2.97,1.07 -2.16,1.11 -1.32,1.06 -0.46,1.09 -5.16,.76 -4.37,.77 -3.53,.82 -2.69,.83 -1.87,.8 -1.03,.83 -0.16,.79 -5.37,.48 -4.53,.52 -3.71,.51 -2.87,.55 -2.04,.52 -1.21,.51 -0.36,.55 -5.06,.19 -4.23,.17 -3.41,.21 -2.56,.21 -1.73,.18 -0.92,.23 -0.24,.18 -5.17,-.05 -4.41,-.1 -3.57,-.08 -2.74,-.11 -1.92,-.07 -1.09,-.08 -0.22,-.1 -4.9,-.37 -4.09,-.41 -3.27,-.37 -2.43,-.38 -1.63,-.37 -0.78,-.4 -0.02,-.38 -4.84,-.63 -4.03,-.64 -3.22,-.68 -2.41,-.69 -1.58,-.63 -0.72,-.62 0.05,-.64 -4.58,-.94 -3.77,-.95 -2.95,-.96 -2.14,-.93 -1.28,-.92 -0.46,-.96 0.45,-.96 -4.35,-1.2 -3.55,-1.25 -2.73,-1.21 -1.92,-1.24 -1.1,-1.22 -0.28,-1.2 0.42,-1.24 -4.5,-1.48 -3.68,-1.52 -2.85,-1.49 -2.07,-1.53 -1.25,-1.53 -0.42,-1.49 0.55,-1.48 -4.08,-1.74 -3.25,-1.79 -2.43,-1.75 -1.6,-1.78 -0.78,-1.78 0.08,-1.76 0.88,-1.72 -3.78,-2.02 -2.95,-2.05 -2.13,-2.05 -1.3,-2 -0.48,-2.03 0.38,-2.03 1.02,-1.98 -3.45,-2.3 -2.62,-2.3 -1.8,-2.27 -0.95,-2.28 -0.3,-2.3 0.5,-2.32 -2.98,-2.6 -2.18,-2.55 -1.32,-2.55 -0.48,-2.58 0.28,-2.55 -2.55,-2.88 -1.68,-2.83 -0.82,-2.86 -0.1,-2.88 -2.48,-3.3 -2.18,-3.05 -1.92,-3.12
0.68,-3.9 1.18,-3.95 1.72,-3.92 2.02,-3.88 0.55,-4.18 0.98,-4.22 1.48,-4.22 2.1,-4.12 0.45,-4.48 0.9,-4.48 1.72,-4.5 1.95,-4.55 0.72,-4.72 1.28,-4.65 1.68,-4.6 0.92,-4.82 2.28,-3.85 2.45,-3.72 1.62,-3.38 2.55,-3.35 2.35,-3.18
7.72,1.85 7.85,1.78 7.92,2.25 7.75,2.52 8.05,2.75 8.15,2.4 8.32,2.85 8.05,3.05 8.2,3.28 8.32,3.35 8.42,3.25 8.6,3.05 8.35,3.72 8.52,3.55 8.18,3.62 7.72,3.35 7.88,3.9 8.38,4.2 7.42,1.75 7.32,1.42 7.18,1.62 6.95,1.42 7.55,1.45 7.68,1.5 8.08,1.98 1.95,1.55 2.05,1.82 1.92,2.25 1.72,2.6 1.58,2.72 1.4,2.8 1.58,2.48
-3.9,.93 -3.63,1.03 -3.31,.88 -3.04,1 -2.74,.9 -2.47,1.18 -3.86,.58 -3.45,.64 -3.14,.78 -2.86,.47 -2.58,.62 -2.3,.46 -3.98,.24 -3.7,.1 -3.42,.33 -3.08,.18 -2.8,.1 -2.48,.36 -4.12,-.16 -3.8,-.3 -3.5,-.16 -3.2,-.28 -2.9,-.12 -2.6,-.27 -4.28,-.66 -3.98,-.72 -3.64,-.58 -3.35,-.76 -3.02,-.54 -2.7,-.72 -4.42,-1.12 -4.1,-1.24 -3.8,-1.1 -3.48,-1.28 -3.2,-1.12 -2.88,-1.3 -2.58,-1.12 -4.26,-1.58 -3.96,-1.54 -3.7,-1.72 -3.4,-1.54 -3.1,-1.74 -2.8,-1.62 -2.52,-1.8 -2.2,-1.62 -3.72,-2.04 -3.44,-2.12 -3.18,-2.04 -2.88,-2.18 -2.58,-2.02 -2.3,-2.2 -2.04,-2.1 -1.72,-2.16 -1.42,-2.06 -2.05,-.62 -1.76,-.76 -1.48,-.6 -1.18,-.7 -0.9,-.6 -0.58,-.8 -0.28,-.62 -1.95,-1.1 -1.62,-1.2 -1.32,-1.08 -1.02,-1.28 -0.72,-1.14 -0.42,-1.3 -0.15,-1.12 -1.82,-1.42 -1.52,-1.58 -1.22,-1.42 -0.92,-1.6 -0.62,-1.44 -0.32,-1.6 -4.58,1.9 -4.2,2.02 -3.88,1.88 -3.46,1.98 -3.12,1.9 -2.76,2.06 -4.45,1.58 -4.12,1.62 -3.72,1.52 -3.38,1.6 -3,1.48 -2.62,1.6 -2.22,1.54 -1.84,1.62 -1.46,1.54 -1.12,1.64 -4.32,2.56 -4.02,2.42 -3.72,2.62 -3.28,2.45 -2.98,2.52 -2.48,2.36 -2.12,2.42 -1.58,2.36 -1.22,2.42 -0.62,2.36 -0.12,2.48 -1.18,1.94 -0.92,2.1 -0.52,2.04 -0.18,2.18 0.4,2.06 -1.3,.62 -1,.5 -0.68,.66 -0.32,.52 -1.15,.12 -0.84,.02 -0.55,.16 -0.25,-.02 -1.05,-.34 -0.68,-.24 -0.38,-.4`

const g2mCells = `-2.88,3.98 -3.3,3.92 -2.7,3.85 -1.55,3.9 -1,3.95 -3.7,3.8 -3.82,3.55 -3.42,3.6 -2.85,3.2 -2.8,3.0 -4.55,2.72 -3.5,2.95 -0.85,3.65 0.18,3.4 0.6,3.5 1.02,3.0 -1.35,2.55 -0.4,2.72 -4.9,2.45 -5.2,2.28 -3.1,2.1 -1.1,2.15 0.6,2.1 0.92,2.7 2.08,2.2 1.85,2.12 2,1.72 -5.55,1.6 -5.3,1.55 -3.9,1.25 -1.85,1.2 -0.3,1.4 0.45,1.6 1.88,1.2 1.82,.98 -5.25,.95 -4.8,.7 -4.25,.62 -3.1,.55 -1.8,.4 -0.8,.72 -0.2,.52 -5.35,.22 -4.6,-.1 -3.4,-.2 -1.6,.1 0.32,.25 0.25,.15 -4.92,-.7 -3.85,-.85 -2.6,-.7 -1.9,-.9 -0.5,-.75 0.15,-.55 -4.6,-1.05 -2.95,-1.6 -1.5,-1.15 -0.2,-1.5 0.15,-1.85 -3.15,-1.55 -2.4,-2.2 -1.05,-1.95 -0.6,-2 -3.45,-2.9 -2.55,-2.75 -2.8,-3.18 0.42,-2.85 0.25,-2.55 3.2,-.8 3.5,-.85 3.95,-1.3 1.5,-1.3 2.85,-2.2 2.8,-1.72 3.05,.2 4.9,.4 5.12,-.08
0.7,-4.42 0.55,-4.78 1.02,-4.2 1.2,-4.5 1.4,-4.05 2.3,-3.2 2.55,-3.1 2.75,-3.12 2.72,-2.98 4.85,.35 3.15,.5 7.12,.9 7.35,.55 6.58,-.42 6.28,-.58 5.72,-1.5 5.6,-.82 5.95,-.95 7.72,.25 8.25,2.52 8.12,2.28 7.9,3.2 7.75,3.05 7.6,4.38 7.58,4.42 8.3,3.5 8.52,3.85 8.42,4.05 8.68,3.4 8.55,3.1 8.68,3.2 8.2,3.35 8.5,3.65 8.52,2.92
6.5,-1.75 6.35,-1.6 6.78,-1.95 6.6,-2.1 6.9,-2.05 7.1,-1.98 7.25,-2.1 7.42,-2.05 7.55,-2 7.1,-2.2 7.3,-2.25 7.55,-2.22 7.75,-2.15 7.8,-1.85 7.95,-1.82 8,-2 8.18,-2.05 8.3,-2 8.45,-2.02 8.6,-2.12 8.35,-2.2 8.1,-2.22 7.85,-2.35 7.68,-2.45 7.42,-2.48 7.22,-2.6 7.02,-2.72 7.25,-2.7 7.55,-2.7 7.72,-2.65 7.9,-2.62 8.1,-2.72 8.3,-2.52 8.5,-2.42 8.65,-2.35 8.7,-2.48 8.55,-2.6 8.35,-2.7 8.18,-2.78 7.98,-2.8 7.85,-2.95 7.8,-2.78 8,-2.48 8.22,-2.35 7.55,-2.92 7.4,-2.78 7.62,-2.55 7.15,-2.35 7.02,-2.48 8.4,-2.3 8.68,-2.2 8.62,-2.02 6.78,-2.5 6.5,-2.62 6.2,-2.72
7.22,-2.88 7.35,-3.02 7.5,-3.18 7.42,-3.3 7.25,-3.25 7.18,-3.45 7.4,-3.45 7.5,-3.6 7.3,-3.55 7.05,-3.52 6.92,-3.4 6.78,-3.3 6.65,-3.42 6.48,-3.35 6.3,-3.28 6.15,-3.25 6.02,-3.42 5.85,-3.45 5.68,-3.4 5.55,-3.45 6.2,-3.5 6.4,-3.55 6.55,-3.62 6.72,-3.68 6.85,-3.75 7,-3.7 7.15,-3.65 6.95,-3.6 6.6,-3.72 6.4,-3.8 6.25,-3.62 6.1,-3.58 5.9,-3.6 5.78,-3.55 6.72,-3.88 6.85,-3.9 6.62,-3.85 6.02,-3.7 5.95,-3.12 5.72,-3.15 5.42,-3.28 5.3,-3.1 5.68,-3.05 5.8,-2.82 6.05,-2.85 5.52,-2.75 5.28,-2.5 5.58,-2.55 4.82,-2.95 5.2,-2.92 4.9,-2.72 5.62,-2.2 5.72,-2 6,-1.55 5.95,-1.8 6.3,-1.92 6.52,-2.35 6.58,-2.1 7.3,-3.12 7.48,-2.98
8.02,-2.2 8.25,-2.12 8.48,-2.18 8.58,-2.28 8.42,-2.5 8.2,-2.6 8.05,-2.55 7.88,-2.5 7.78,-2.58 7.65,-2.68 7.5,-2.82 7.34,-2.58 7.5,-2.38 7.68,-2.28 7.88,-2.12 7.45,-2.18 8.05,-2.88 8.28,-2.62 8.62,-2.48 8.12,-1.95 8.28,-1.85 7.92,-2.68 6.82,-3.52 6.98,-3.8 7.12,-3.3 6.55,-3.5 6.3,-3.45 6.12,-3.4 5.92,-3.32 6.78,-3.75 6.5,-3.78 7.25,-3.42 7.42,-3.55 5.62,-3.52 5.85,-3.3`

const sCells = `-2.1,3.8 -2.8,3.8 -2.62,3.72 -1.45,3.78 -1.28,3.72 -0.92,3.88 -0.75,3.82 -0.52,3.85 -0.28,3.62 -3.4,3.55 -3.6,3.3 -3.05,3.55 -2.25,3.55 -1.62,3.55 -1,3.28 -0.4,3.55 -0.18,3.5 0.32,3.55 0.75,3.4 -4.02,3.1 -3.85,2.98 -3.25,2.92 -2.5,3.3 -1.85,3.28 -0.88,2.98 -0.55,3.3 0.22,3.1 0.8,3.05 1.2,3.12 -4.85,2.72 -4.3,2.78 -3.75,2.72 -2.95,2.68 -2.38,2.82 -1.75,2.72 -1.05,2.72 -0.25,2.72 0.4,2.7 0.72,2.72 -5.05,2.5 -4.6,2.45 -3.5,2.42 -2.7,2.42 -1.85,2.4 -1.25,2.4 -0.6,2.45 0.1,2.45 0.62,2.42 1.32,2.72 1.48,2.35 -4.8,2.2 -4.3,2.15 -3.45,2.2 -2.62,2.12 -2.05,2.22 -1.5,2.15 -0.9,2.2 -0.25,2.15 0.45,2.22 1.55,2.12 1.9,1.5 -5.05,1.95 -4.45,1.9 -3.62,1.92 -2.85,1.85 -2.28,1.92 -1.65,1.9 -0.82,1.9 -0.22,1.85 0.35,1.95 0.9,1.75 2.05,1.6 2.2,1.42 -5.2,1.65 -4.6,1.62 -3.85,1.62 -3.05,1.6 -2.42,1.68 -1.38,1.6 -0.7,1.6 -0.55,1.72 -0.3,1.6 0.55,1.38 1.05,1.22 -5.5,1.35 -5,1.3 -4.4,1.35 -3.55,1.3 -2.75,1.38 -2.15,1.32 -1.2,1.35 -0.42,1.38 0.2,1.45 0.75,.85 2,1.3 -5.48,1.05 -4.65,1.08 -3.8,1.08 -3,1.02 -2.2,1.06 -1.62,1.05 -0.8,1.05 -0.15,.95 0.22,.82 -5.42,.78 -4.6,.75 -3.7,.78 -2.9,.75 -2.1,.82 -1.25,.8 -0.4,.72 0.25,.68 0.75,.4 -5.3,.48 -4.52,.45 -3.52,.5 -2.6,.52 -1.78,.48 -0.95,.45 -0.1,.5 0.45,.12 -5.02,.2 -4.2,.2 -3.35,.22 -2.52,.24 -1.72,.24 -0.88,.2 -0.05,.15 0.62,.18 1.62,-.15 -4.95,-.08 -4.1,-.12 -3.3,-.08 -2.48,-.06 -1.65,-.08 -0.82,-.06 0.1,-.05 0.85,-.12 2.35,.12 2.62,.05 2.55,.3 -4.65,-.4 -3.82,-.38 -3,-.35 -2.18,-.36 -1.35,-.35 -0.5,-.35 0.42,-.38 2.1,-.3 -4.6,-.68 -3.75,-.65 -2.9,-.62 -2.1,-.62 -1.25,-.62 -0.35,-.62 0.5,-.62 1.18,-.62 -4.32,-.95 -3.5,-.9 -2.7,-.9 -1.85,-.9 -1.05,-.92 -0.18,-.9 0.7,-.9 1.55,-.95 -4.25,-1.22 -3.4,-1.2 -2.62,-1.18 -1.8,-1.22 -1,-1.2 -0.12,-1.22 0.6,-1.2 1.05,-1.25 -3.95,-1.5 -3.15,-1.48 -2.35,-1.45 -1.55,-1.48 -0.72,-1.48 0.25,-1.5 0.9,-1.5 2.05,-1.45 -3.75,-1.78 -2.95,-1.75 -2.1,-1.75 -1.3,-1.75 -0.48,-1.78 0.45,-1.75 1.12,-1.78 -3.48,-2.02 -2.65,-2.02 -1.85,-2.02 -1.02,-2.04 -0.18,-2.02 0.62,-2.05 1.65,-2.02 -3.3,-2.3 -2.42,-2.32 -1.6,-2.3 -0.8,-2.32 0.15,-2.3 0.9,-2.3 -2.95,-2.6 -2.15,-2.62 -1.32,-2.6 -0.45,-2.6 -2.65,-2.88 -1.95,-2.88 -1.1,-2.85 -2.45,-3.12 -2.35,-3.25 -2.55,-3.3 -1.85,-3.1 0.62,-2.78 1.15,-2.85
0.5,-3.85 0.92,-3.95 1.1,-3.65 1.2,-3.3 1.32,-3.55 1.5,-3.82 1.62,-4.05 1.9,-3.55 2.05,-3.55 0.3,-4.15 0.48,-4.22 0.88,-4.35 1.22,-4.2 1.52,-4.42 1.8,-4.2 2.22,-4.15 0.92,-4.6 0.7,-4.7 1.3,-4.8 1.45,-4.48 0.88,-4.95 1.02,-5.08 1.12,-5.12 1.25,-5 1.05,-4.72 2.45,-3.52 2.6,-3.42 2.68,-3.18 2.85,-2.95 2.92,-2.72 3.08,-2.55 3.02,-2.85 2.62,-3.05 2.5,-3.22 2.4,-3.35 1.55,-2.6 1.22,-2.1 1.4,-1.62 0.8,-2.62 1.05,-2.72 3.35,-2.5
1.18,-.05 1.38,-.02 1.82,-.02 2.25,.45 2,.4 2.15,.18 2.72,-.35 2.95,-.55 2.6,-.9 2.3,-1.45 2.42,-1.62 2.75,-1.12 2.95,-1.02 3.1,-.9 3.25,-1.08 3.02,-1.32 3.22,-1.4 3.35,-1.22 3.48,-1.28 3.62,-1.12 3.78,-1.2 3.92,-1.1 4.1,-1.15 3.42,-1.5 3.55,-1.58 3.7,-1.42 3.88,-1.5 4,-1.38 4.22,-1.45 4.4,-1.32 4.55,-1.2 3.2,-1.7 3.45,-1.78 3.62,-1.85 3.85,-1.9 4.05,-1.7 4.25,-1.72 4.52,-1.65 4.72,-1.75 3.02,-1.95 3.25,-2.05 3.55,-2.12 3.75,-2.18 4.02,-2.05 4.3,-2.12 4.6,-2.05 4.9,-1.95 3.4,-.35 3.55,-.6 3.85,-.62 3.62,-.82 3.78,-.48 4.18,-.72 4.42,-.85 4.55,-.72 4.48,-.45 4.62,-.55 4.72,-.9 4.78,-.72 4.65,-.28 4.52,-.15 4.58,-.95 4.38,-.98 5.08,-.08 5.25,-.55 5.08,-.95 5.4,-.85 5.62,-1.15 5.48,-1.25 4.95,-1.25 5.18,-1.42 5.3,-1.65 4.98,-1.6 5.55,-1.52 5.68,-1.32 5.85,-1.15 5.98,-1.02 6.1,-1.28 6.25,-1.18 5.82,-1.48 5.6,-1.72 5.42,-1.95
3.7,-2.45 3.85,-2.62 3.75,-2.85 3.92,-2.8 4.2,-2.5 4.35,-2.75 4.48,-2.62 4.62,-2.35 4.75,-2.5 4.58,-2.85 4.72,-2.72 4.85,-2.6 5,-2.4 5.15,-2.3 5.02,-2.18 5.25,-2.05 5.42,-2.28 5.3,-2.72 5.4,-2.42 5.55,-2.38 5.6,-2.68 5.5,-2.9 5.38,-3.02 5.45,-3.12 5.28,-3.28 5.38,-3.2 6.52,-1.82 6.65,-2.02 6.72,-2.12 6.82,-2.28 5.15,-3.05 4.4,-3 4.25,-1.95 5.72,-.5 5.92,-.22 6.02,-.6 6.18,-.4 6.32,-.75 6.42,-1.02 5.55,-.3 5.72,-.05 5.35,-.02 5.58,.1 5.85,-.15 6.02,.12 6.18,-.05 6.1,.28 6.28,.32 6.05,.45 6.3,.62 6.15,.58 5.95,.3 6.6,.48 6.88,.12 7,.1 6.75,.02 7.12,.5 7.28,.85 7.38,1.22 7.5,1.4 7.48,1.6 7.62,1.15
4.62,-.42 4.55,-.62 4.48,-.72 4.7,-.62 8.3,4.35 8.42,4.32 8.22,4.42 8.45,4.2 8.55,4.1 8.38,3.92 8.6,4.02 8.3,3.85 8.45,3.62 8.58,3.55 8.7,3.25 8.55,3.42 7.98,3.85 7.88,3.55 8.12,3.42 8.05,3.35 8.25,3.2 8.02,3.52 8.15,2.85 8.38,2.75 7.5,3.58 7.4,3.48 7.72,2.15 7.92,1.75 7.42,1.38
-3.77,3.13 -2.53,3.47 -1.16,3.13 0.01,3.28 -4.47,2.56 -3.07,2.57 -1.58,2.58 -0.02,2.54 -4.82,2.25 -3.23,2.28 -1.78,2.33 -0.65,2.26 -4.83,1.86 -3.38,1.83 -1.98,1.8 -0.52,1.85 -5.12,1.36 -3.78,1.44 -2.28,1.38 -0.76,1.44 0.52,1.22 -5.07,.95 -3.53,1.12 -2.03,1.18 -0.55,1.02 -5.08,.64 -3.43,.7 -1.85,.68 -0.33,.64 -4.78,.3 -3.08,.37 -1.47,.35 0.05,.3 -4.52,-.05 -2.97,.05 -1.37,.05 0.35,-.02 -4.33,-.22 -2.78,-.22 -1.25,-.24 0.15,-.24 -4.42,-.52 -2.78,-.52 -1.12,-.5 0.38,-.52 -4.05,-.82 -2.58,-.82 -1,-.78 0.45,-.72 -4.12,-1.06 -2.43,-1.1 -0.82,-1.1 0.68,-1.06 -3.68,-1.42 -2.13,-1.38 -0.52,-1.42 1.02,-1.4 -3.47,-1.66 -1.77,-1.65 -0.2,-1.66 -3.18,-1.92 -1.58,-1.92 0.02,-1.94 -2.98,-2.22 -1.45,-2.2 0.28,-2.22 -2.72,-2.5 -1.08,-2.48 -2.28,-2.84 -1.35,-2.8
3.3,-1.55 3.55,-1.38 3.72,-1.62 3.98,-1.6 4.12,-1.32 4.28,-1.22 3.15,-1.15 3.05,-1.6 3.35,-1.92 3.68,-2 3.95,-2.32 4.18,-2.28 4.45,-2.22 4.72,-2.18 4.85,-2.25 5.08,-2.55 5.2,-2.7 5.12,-2.82 4.72,-2.92 5.62,-1.02 5.78,-.95 5.48,-.72 5.72,-.78 5.88,-.62 6.12,-.85 6.05,-1.12 5.7,-.38 5.82,-.32 4.42,-.62 4.6,-.82 4.68,-.45 4.52,-.32 1.15,-4.35 1.38,-4.52 0.72,-4.18 1.18,-4.08 1.62,-4.45 0.82,-4.48 2.1,-3.62 2.2,-3.82`

type Panel = {
  title: string; left: number; right: number; top: number; bottom: number; zero: number
  unit: number; ticks: number[]; titleX: number; titleY: number; maxes: number[]; cells: string[]
  filled: Record<number, Profile>; labelSize: number; slanted?: boolean
}

const panels: Panel[] = [
  { title: 'MKI67', left: 53.3, right: 378, top: 49, bottom: 269, zero: 259, unit: 56.4, ticks: [0, 1, 2, 3], titleX: 215, titleY: 35, maxes: mki67Max, cells: mki67Cells, filled: { 2: mki67Green }, labelSize: 19 },
  { title: 'TOP2A', left: 437.3, right: 762, top: 49, bottom: 269, zero: 259, unit: 52, ticks: [0, 1, 2, 3, 4], titleX: 598, titleY: 35, maxes: top2aMax, cells: top2aCells, filled: { 2: top2aGreen }, labelSize: 19 },
  { title: 'PCNA', left: 823, right: 1148, top: 49, bottom: 269, zero: 259, unit: 59.6, ticks: [0, 1, 2, 3], titleX: 984.7, titleY: 35, maxes: pcnaMax, cells: pcnaCells, filled: { 2: pcnaGreen, 7: pcnaB }, labelSize: 19 },
  { title: 'LEF1', left: 53.3, right: 378, top: 1341, bottom: 1561, zero: 1551, unit: 50.2, ticks: [0, 1, 2, 3, 4], titleX: 215.7, titleY: 1326, maxes: lef1Max, cells: lef1Cells, filled: { 2: lef1Green, 5: lef1T, 7: lef1B }, labelSize: 17.6, slanted: true },
  { title: 'ID3', left: 437.3, right: 762, top: 1341, bottom: 1561, zero: 1551, unit: 52, ticks: [0, 1, 2, 3, 4], titleX: 599, titleY: 1326, maxes: id3Max, cells: id3Cells, filled: { 2: id3Green }, labelSize: 17.6, slanted: true },
  { title: 'BCL11A', left: 823, right: 1148, top: 1341, bottom: 1561, zero: 1551, unit: 56.4, ticks: [0, 1, 2, 3], titleX: 985.5, titleY: 1326, maxes: bcl11aMax, cells: bcl11aCells, filled: { 2: bcl11aGreen, 5: bcl11aT, 7: bcl11aB }, labelSize: 17.6 },
]

const sans = '"Liberation Sans", Arial, Helvetica, sans-serif'
const axisGrey = '#5f5f5f'
const halfViolin = 17.8
const step = 39.5

const parsePairs = (s: string) => s.trim().split(/\s+/).map((p) => p.split(',').map(Number))

function drawViolinPanel(svg: d3.Selection<SVGSVGElement, unknown, null, undefined>, p: Panel) {
  const g = svg.append('g')
  const x = d3.scalePoint<string>().domain(clusters).range([p.left + 23.5, p.left + 23.5 + 7 * step])
  const y = d3.scaleLinear()
    .domain([(p.zero - p.bottom) / p.unit, (p.zero - p.top) / p.unit])
    .range([p.bottom, p.top])

  g.append('text').attr('x', p.titleX).attr('y', p.titleY).attr('text-anchor', 'middle')
    .attr('dominant-baseline', 'middle')
    .attr('font-family', sans).attr('font-size', 14.7).attr('font-weight', 700).attr('fill', '#1a1a1a').text(p.title)

  // y axis
  const yAxis = g.append('g').attr('transform', `translate(${p.left},0)`)
    .call(d3.axisLeft(y).tickValues(p.ticks).tickSize(3).tickSizeOuter(0).tickFormat(d3.format('d')))
  yAxis.select('.domain').attr('stroke', axisGrey).attr('stroke-width', 1.4)
  yAxis.selectAll('.tick line').attr('stroke', axisGrey).attr('stroke-width', 1)
  yAxis.selectAll('.tick text').attr('font-family', sans).attr('font-size', 13).attr('fill', '#3a3a3a').attr('dx', '-1')

  g.append('text')
    .attr('transform', `translate(${p.left - 23},${(p.top + p.bottom) / 2}) rotate(-90)`)
    .attr('text-anchor', 'middle').attr('dominant-baseline', 'middle')
    .attr('font-family', sans).attr('font-size', 13.3).attr('fill', '#3a3a3a').text('Expression Level')

  // x axis
  g.append('line').attr('x1', p.left).attr('x2', p.right).attr('y1', p.bottom).attr('y2', p.bottom)
    .attr('stroke', axisGrey).attr('stroke-width', 1.4)
  const xAxis = g.append('g').attr('transform', `translate(0,${p.bottom})`)
    .call(d3.axisBottom(x).tickSize(3).tickSizeOuter(0))
  xAxis.select('.domain').remove()
  xAxis.selectAll('.tick line').attr('stroke', axisGrey)
  xAxis.selectAll('.tick text')
    .attr('font-family', sans).attr('font-size', p.labelSize).attr('fill', '#222')
    .attr('font-style', p.slanted ? 'italic' : 'normal')
    .attr('text-anchor', 'end')
    .attr('transform', 'translate(11,10) rotate(-45)')
    .attr('x', 0).attr('y', 0).attr('dy', 0)

  // violins and flat zero bars
  const area = d3.area<[number, number]>()
    .x0((d) => -d[1] * halfViolin)
    .x1((d) => d[1] * halfViolin)
    .y((d) => y(d[0]))
    .curve(d3.curveMonotoneY)

  clusters.forEach((c, i) => {
    const cx = x(c) as number
    const profile = p.filled[i]
    if (profile) {
      g.append('path').attr('d', area(profile) as string)
        .attr('transform', `translate(${cx},0)`)
        .attr('fill', clusterColors[i]).attr('stroke', '#4a4a4a').attr('stroke-width', 0.9)
    } else {
      g.append('line').attr('x1', cx).attr('x2', cx).attr('y1', y(0)).attr('y2', y(p.maxes[i]))
        .attr('stroke', '#6a6a6a').attr('stroke-width', 1.4)
      g.append('line').attr('x1', cx - halfViolin).attr('x2', cx + halfViolin).attr('y1', y(0)).attr('y2', y(0))
        .attr('stroke', '#111').attr('stroke-width', 1.8)
    }
    g.append('g').selectAll('circle').data(parsePairs(p.cells[i])).join('circle')
      .attr('cx', (d) => cx + (d[0] / 100) * step)
      .attr('cy', (d) => y(d[1]))
      .attr('r', 0.85).attr('fill', '#141414').attr('opacity', 0.85)
  })
}

function drawClusterLegend(svg: d3.Selection<SVGSVGElement, unknown, null, undefined>, rowY: number[]) {
  const g = svg.append('g')
  legendLabels.forEach((label, i) => {
    g.append('rect').attr('x', 1189.5).attr('y', rowY[i] - 10.5).attr('width', 20.5).attr('height', 21)
      .attr('fill', clusterColors[i]).attr('stroke', '#5c5c5c').attr('stroke-width', 1.6)
    g.append('circle').attr('cx', 1200).attr('cy', rowY[i]).attr('r', 2).attr('fill', '#000')
    g.append('text').attr('x', 1217.5).attr('y', rowY[i] + 2).attr('dominant-baseline', 'middle')
      .attr('font-family', sans).attr('font-size', 17.5).attr('fill', '#222').text(label)
  })
}

function drawEnrichment(svg: d3.Selection<SVGSVGElement, unknown, null, undefined>) {
  const g = svg.append('g')
  const x = d3.scaleLinear().domain([0, 8]).range([267.7, 1139.4])
  const y = d3.scaleBand().domain(terms).range([379.9, 658]).paddingInner(0.1).paddingOuter(0.05)

  g.selectAll('rect.bar').data(terms).join('rect').attr('class', 'bar')
    .attr('x', x(0)).attr('y', (d) => y(d) as number)
    .attr('width', (_, i) => x(enrichment[i]) - x(0)).attr('height', y.bandwidth())
    .attr('fill', '#4682b4').attr('stroke', '#a9c4de').attr('stroke-width', 0.6)

  const yAxis = g.append('g').attr('transform', `translate(${x(0)},1)`).call(d3.axisLeft(y).tickSize(0).tickPadding(6))
  yAxis.select('.domain').remove()
  yAxis.selectAll('text').attr('font-family', sans).attr('font-size', 11.55).attr('fill', '#444')
  g.append('line').attr('x1', x(0)).attr('x2', x(0)).attr('y1', 378).attr('y2', 660.7).attr('stroke', '#777').attr('stroke-width', 1)

  const xAxis = g.append('g').attr('transform', 'translate(0,660.7)')
    .call(d3.axisBottom(x).tickValues(enrichTicks).tickSize(5).tickSizeOuter(0).tickFormat(d3.format('d')))
  xAxis.select('.domain').attr('stroke', '#777').attr('stroke-width', 1.6)
  xAxis.selectAll('.tick line').attr('stroke', '#777')
  xAxis.selectAll('.tick text').attr('font-family', sans).attr('font-size', 10.5).attr('fill', '#444').attr('y', 8)

  g.append('text').attr('x', x(0)).attr('y', 686).attr('text-anchor', 'middle').attr('dominant-baseline', 'middle')
    .attr('font-family', sans).attr('font-size', 11.3).attr('fill', '#444').text('Enrichment ratio')

  const keys: [number, string, string][] = [[923, '#4682b4', 'FDR ≤ 0.05'], [1053, '#b0c4de', 'FDR > 0.05']]
  keys.forEach(([kx, fill, label]) => {
    g.append('rect').attr('x', kx).attr('y', 630).attr('width', 22).attr('height', 11).attr('fill', fill)
    g.append('text').attr('x', kx + 25).attr('y', 637).attr('dominant-baseline', 'middle')
      .attr('font-family', '"Liberation Serif", serif').attr('font-size', 12.6).attr('fill', '#333').text(label)
  })
}

function drawUmap(svg: d3.Selection<SVGSVGElement, unknown, null, undefined>) {
  const g = svg.append('g')
  const x = d3.scaleLinear().domain([(144.9 - 391.8) / 39.55, (763 - 391.8) / 39.55]).range([144.9, 763])
  const y = d3.scaleLinear().domain([(984.6 - 1231.4) / 43.72, (984.6 - 768) / 43.72]).range([1231.4, 768])

  ;[g1Cells, g2mCells, sCells].forEach((cells, i) => {
    g.append('g').selectAll('circle').data(parsePairs(cells)).join('circle')
      .attr('cx', (d) => x(d[0])).attr('cy', (d) => y(d[1]))
      .attr('r', 2.15).attr('fill', phaseColors[i])
  })

  const hyphen = (f: (n: number) => string) => (d: d3.NumberValue) => f(+d).replace('−', '-')
  const xAxis = g.append('g').attr('transform', 'translate(0,1231.4)')
    .call(d3.axisBottom(x).tickValues(umapTicksX).tickSize(4).tickSizeOuter(0).tickFormat(hyphen(d3.format('d'))))
  const yAxis = g.append('g').attr('transform', 'translate(144.9,0)')
    .call(d3.axisLeft(y).tickValues(umapTicksY).tickSize(4).tickSizeOuter(0).tickFormat(hyphen(d3.format('.1f'))))
  ;[xAxis, yAxis].forEach((a) => {
    a.select('.domain').attr('stroke', '#222').attr('stroke-width', 1.5)
    a.selectAll('.tick line').attr('stroke', '#222')
    a.selectAll('.tick text').attr('font-family', sans).attr('font-size', 19.5).attr('fill', '#222')
  })
  xAxis.selectAll('.tick text').attr('y', 10)
  yAxis.selectAll('.tick text').attr('x', -8)

  g.append('text').attr('x', 453.6).attr('y', 746).attr('text-anchor', 'middle').attr('dominant-baseline', 'middle')
    .attr('font-family', sans).attr('font-size', 26.5).attr('font-weight', 700).attr('fill', '#111').text('Phase')
  g.append('text').attr('x', 454).attr('y', 1278).attr('text-anchor', 'middle').attr('dominant-baseline', 'middle')
    .attr('font-family', sans).attr('font-size', 23.5).attr('fill', '#222').text('UMAP_1')
  g.append('text').attr('transform', 'translate(82,1000) rotate(-90)').attr('text-anchor', 'middle').attr('dominant-baseline', 'middle')
    .attr('font-family', sans).attr('font-size', 23.5).attr('fill', '#222').text('UMAP_2')

  phaseLabels.forEach((label, i) => {
    const ly = 980.7 + i * 25.5
    g.append('circle').attr('cx', 799).attr('cy', ly).attr('r', 6.6).attr('fill', phaseColors[i])
    g.append('text').attr('x', 823).attr('y', ly + 2).attr('dominant-baseline', 'middle')
      .attr('font-family', sans).attr('font-size', 19.5).attr('fill', '#222').text(label)
  })
}

export default function App() {
  const svgRef = useRef<SVGSVGElement>(null)

  useEffect(() => {
    if (!svgRef.current) return
    const svg = d3.select(svgRef.current)
    svg.selectAll('*').remove()

    panels.forEach((p) => drawViolinPanel(svg, p))
    drawClusterLegend(svg, [79, 102, 124, 147, 169, 192, 215, 237])
    drawClusterLegend(svg, [1366.7, 1389, 1411.7, 1434, 1456.7, 1479, 1502, 1525])
    drawEnrichment(svg)
    drawUmap(svg)

    const letters: [string, number][] = [['A', 24], ['B', 385], ['C', 731], ['D', 1298]]
    letters.forEach(([t, ly]) => {
      svg.append('text').attr('x', 0).attr('y', ly).attr('font-family', sans)
        .attr('font-size', 26).attr('font-weight', 700).attr('fill', '#000').text(t)
    })
  }, [])

  return <svg ref={svgRef} width={1324} height={1653} style={{ position: 'absolute', left: 0, top: 0, filter: 'blur(0.35px)' }} />
}
